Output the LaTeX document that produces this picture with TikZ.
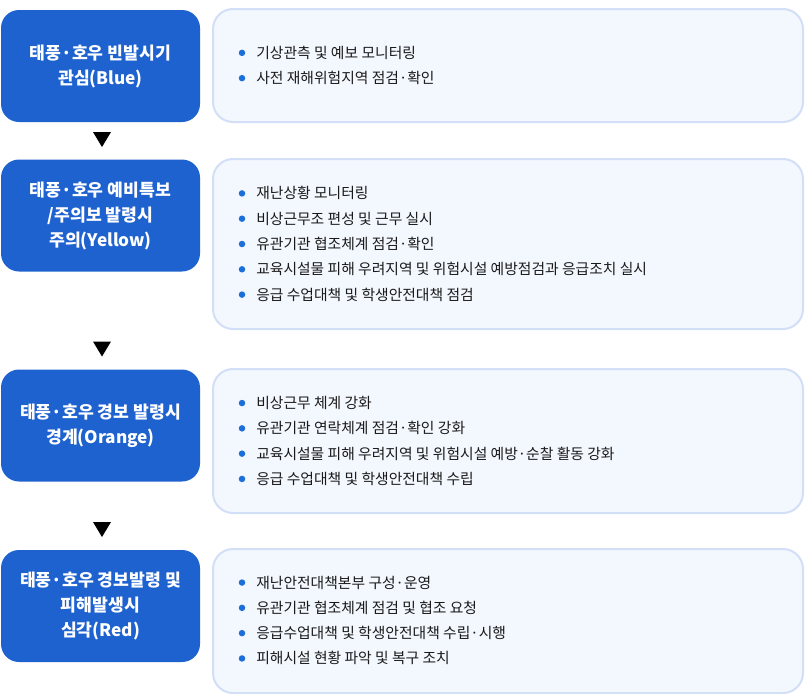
\documentclass[tikz,border=0pt]{standalone}
\usepackage{fontspec}
\setmainfont{Noto Sans CJK KR}
\usepackage{xcolor}
\definecolor{stageblue}{HTML}{1E62D0}
\definecolor{panelfill}{HTML}{F3F7FE}
\definecolor{panelline}{HTML}{D2DFF7}
\definecolor{dotblue}{HTML}{1C6ED8}
\definecolor{itemtext}{HTML}{1A1A1A}
\tikzset{
  stage/.style={rectangle, rounded corners=13.5pt, fill=stageblue, text=white,
    minimum width={199*0.75pt}, minimum height={112*0.75pt}, inner sep=0pt,
    align=center, font=\fontsize{12.9pt}{18.75pt}\selectfont\bfseries},
  panel/.style={rectangle, rounded corners=15pt, fill=panelfill, draw=panelline,
    line width=1.5pt, minimum width={590*0.75pt}, inner sep=0pt},
  itemdot/.style={circle, fill=dotblue, inner sep=0pt, minimum size={6.5*0.75pt}},
  itemline/.style={anchor=base west, inner sep=0pt, text=itemtext,
    font=\fontsize{11.1pt}{12pt}\selectfont},
  downtri/.style={fill=black}
}
\begin{document}
\begin{tikzpicture}[x=0.75pt,y=-0.75pt]
  \useasboundingbox (0,0) rectangle (810,693);
  % Stages
  \node[stage] (s1) at (100.5,66) {태풍·호우 빈발시기\\관심(Blue)};
  \node[stage] (s2) at (100.5,215.5) {태풍·호우 예비특보\\/주의보 발령시\\주의(Yellow)};
  \node[stage] (s3) at (100.5,425.5) {태풍·호우 경보 발령시\\경계(Orange)};
  \node[stage] (s4) at (100.5,606) {태풍·호우 경보발령 및\\피해발생시\\심각(Red)};
  % Triangles between stages
  \coordinate (t1) at (102,139.5);
  \coordinate (t2) at (102,349);
  \coordinate (t3) at (102,529.5);
  \foreach \t in {t1,t2,t3}
    \fill[downtri, shift={(\t)}] (-9,-7.5) -- (9,-7.5) -- (0,7.5) -- cycle;
  % Panels
  \node[panel, minimum height={113*0.75pt}] (p1) at (508,65.5) {};
  \node[panel, minimum height={170*0.75pt}] (p2) at (508,244) {};
  \node[panel, minimum height={144*0.75pt}] (p3) at (508,441) {};
  \node[panel, minimum height={144*0.75pt}] (p4) at (508,621) {};
  % Items
  \foreach \txt [count=\i] in {기상관측 및 예보 모니터링, 사전 재해위험지역 점검·확인} {
    \node[itemdot] (d1-\i) at (242,{65.5+(\i-1.5)*25.3}) {};
    \node[itemline] (i1-\i) at (256,{65.5+(\i-1.5)*25.3+5.5}) {\txt};
  }
  \foreach \txt [count=\i] in {재난상황 모니터링, 비상근무조 편성 및 근무 실시,
      유관기관 협조체계 점검·확인,
      교육시설물 피해 우려지역 및 위험시설 예방점검과 응급조치 실시,
      응급 수업대책 및 학생안전대책 점검} {
    \node[itemdot] (d2-\i) at (242,{244+(\i-3)*25.3}) {};
    \node[itemline] (i2-\i) at (256,{244+(\i-3)*25.3+5.5}) {\txt};
  }
  \foreach \txt [count=\i] in {비상근무 체계 강화, 유관기관 연락체계 점검·확인 강화,
      교육시설물 피해 우려지역 및 위험시설 예방·순찰 활동 강화,
      응급 수업대책 및 학생안전대책 수립} {
    \node[itemdot] (d3-\i) at (242,{441+(\i-2.5)*25.3}) {};
    \node[itemline] (i3-\i) at (256,{441+(\i-2.5)*25.3+5.5}) {\txt};
  }
  \foreach \txt [count=\i] in {재난안전대책본부 구성·운영, 유관기관 협조체계 점검 및 협조 요청,
      응급수업대책 및 학생안전대책 수립·시행, 피해시설 현황 파악 및 복구 조치} {
    \node[itemdot] (d4-\i) at (242,{620.5+(\i-2.5)*25.3}) {};
    \node[itemline] (i4-\i) at (256,{620.5+(\i-2.5)*25.3+5.5}) {\txt};
  }
\end{tikzpicture}
\end{document}
